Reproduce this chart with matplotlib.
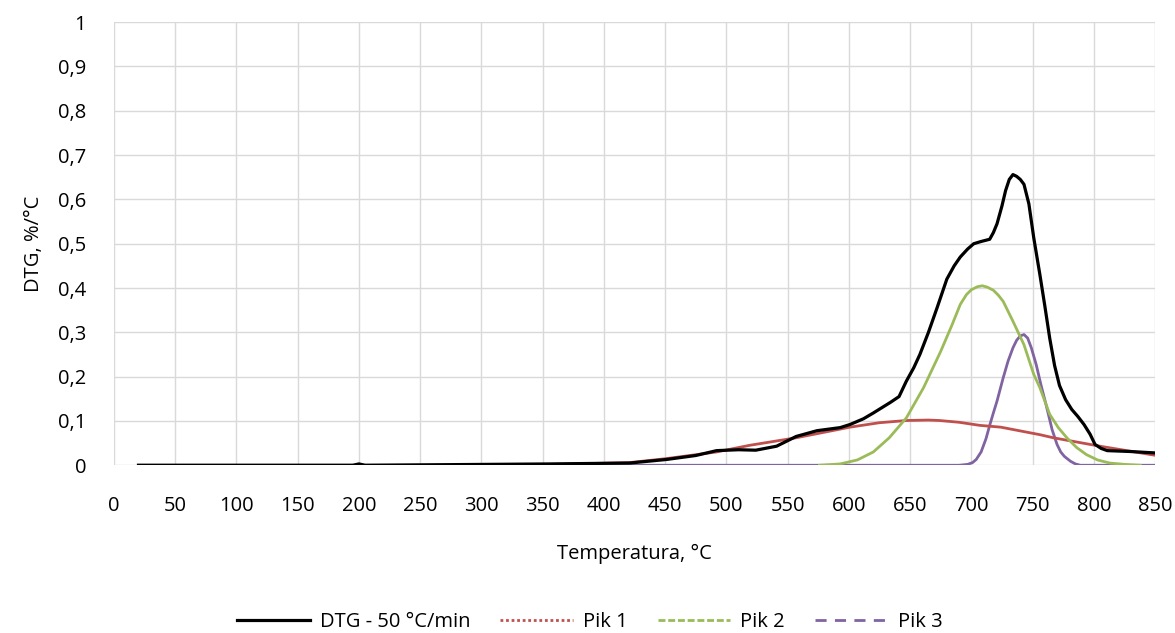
import matplotlib.pyplot as plt
from matplotlib.lines import Line2D
from matplotlib.ticker import FuncFormatter

plt.rcParams["font.family"] = ["Open Sans", "DejaVu Sans"]

# DTG curve
dtg_t = [20, 195, 200, 205, 356, 421, 451, 475, 492, 510, 524, 541, 557, 574,
         593, 601, 612, 620, 627, 634, 641, 647, 653, 658, 665, 672, 680, 686,
         691, 697, 702, 708, 715, 718, 721, 725, 728, 731, 734, 737, 740, 743,
         747, 751, 756, 760, 764, 768, 772, 777, 782, 787, 792, 797, 801, 806,
         811, 830, 849]
dtg_v = [0.0, 0.0, 0.003, 0.0, 0.003, 0.005, 0.013, 0.022, 0.033, 0.035, 0.034,
         0.043, 0.065, 0.078, 0.085, 0.092, 0.105, 0.118, 0.13, 0.142, 0.155,
         0.19, 0.22, 0.25, 0.3, 0.355, 0.42, 0.45, 0.47, 0.488, 0.50, 0.505,
         0.51, 0.525, 0.545, 0.585, 0.62, 0.645, 0.656, 0.652, 0.645, 0.634,
         0.59, 0.513, 0.43, 0.36, 0.287, 0.225, 0.18, 0.148, 0.126, 0.11, 0.092,
         0.07, 0.047, 0.038, 0.033, 0.031, 0.028]

pik1_t = [322, 360, 421, 451, 492, 519, 557, 601, 625, 647, 665, 674, 690, 707,
          724, 756, 767, 805, 849]
pik1_v = [0.0, 0.002, 0.006, 0.015, 0.03, 0.045, 0.062, 0.086, 0.096, 0.101,
          0.102, 0.101, 0.097, 0.09, 0.086, 0.069, 0.062, 0.043, 0.023]

pik2_t = [576, 593, 607, 620, 633, 647, 661, 675, 684, 691, 696, 700, 705, 709,
          713, 718, 722, 726, 734, 743, 751, 756, 764, 771, 778, 786, 794, 803,
          813, 825, 838]
pik2_v = [0.0, 0.003, 0.012, 0.03, 0.062, 0.107, 0.175, 0.257, 0.315, 0.363,
          0.385, 0.396, 0.403, 0.405, 0.402, 0.395, 0.384, 0.37, 0.325, 0.272,
          0.205, 0.175, 0.115, 0.085, 0.062, 0.04, 0.024, 0.012, 0.005, 0.002,
          0.0]

pik3_t = [20, 690, 697, 701, 704, 708, 712, 715, 718, 721, 726, 730, 734, 737,
          740, 743, 746, 749, 753, 757, 761, 766, 770, 773, 776, 781, 785, 789,
          849]
pik3_v = [0.0, 0.0, 0.002, 0.006, 0.013, 0.03, 0.06, 0.09, 0.118, 0.145, 0.197,
          0.235, 0.265, 0.282, 0.292, 0.295, 0.287, 0.265, 0.227, 0.18, 0.137,
          0.08, 0.047, 0.03, 0.02, 0.009, 0.003, 0.0, 0.0]

labels = ["DTG - 50 °C/min", "Pik 1", "Pik 2", "Pik 3"]
colors = ["#000000", "#c0504d", "#9bbb59", "#8064a2"]

fig = plt.figure(figsize=(11.75, 6.33), dpi=100)
ax = fig.add_axes([0.097, 0.265, 0.886, 0.700])

ax.plot(pik3_t, pik3_v, color=colors[3], lw=2.0, zorder=3)
ax.plot(pik1_t, pik1_v, color=colors[1], lw=2.0, zorder=4)
ax.plot(pik2_t, pik2_v, color=colors[2], lw=2.0, zorder=4)
ax.plot(dtg_t, dtg_v, color=colors[0], lw=2.3, zorder=5)

ax.set_xlim(0, 850)
ax.set_ylim(0, 1)
ax.set_xticks(range(0, 851, 50))
ax.set_yticks([i / 10 for i in range(11)])
ax.yaxis.set_major_formatter(FuncFormatter(lambda v, p: ("%g" % round(v, 1)).replace(".", ",")))
ax.grid(True, color="#d9d9d9", lw=1.0)
ax.set_axisbelow(True)
for s in ax.spines.values():
    s.set_visible(False)
ax.tick_params(length=0, labelsize=14.5, colors="#000000")
ax.tick_params(axis="x", pad=22)
ax.tick_params(axis="y", pad=20)

ax.set_xlabel("Temperatura, °C", fontsize=14.5, labelpad=20)
ax.set_ylabel("DTG, %/°C", fontsize=14.5, labelpad=10)

handles = [
    Line2D([], [], color=colors[0], lw=2.3),
    Line2D([], [], color=colors[1], lw=2.0, ls=(0, (1, 1))),
    Line2D([], [], color=colors[2], lw=2.0, ls=(0, (2.5, 1))),
    Line2D([], [], color=colors[3], lw=2.0, ls=(0, (4, 3))),
]
fig.legend(handles, labels, loc="center", bbox_to_anchor=(0.502, 0.017),
           ncol=4, frameon=False, fontsize=14.5, handlelength=3.6,
           columnspacing=1.5, handletextpad=0.5, borderpad=0)

fig.savefig("out.png", dpi=100)
